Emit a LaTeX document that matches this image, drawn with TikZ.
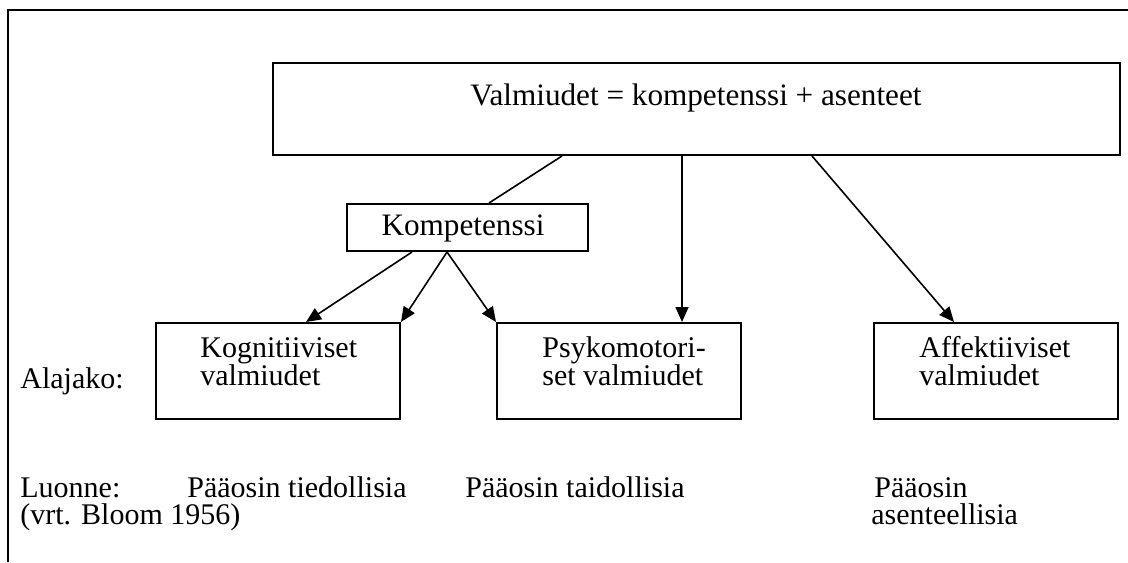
\documentclass[tikz,border=0pt]{standalone}
\usepackage{fontspec}
\setmainfont{Liberation Serif}
\usetikzlibrary{arrows.meta,calc}
\begin{document}
\begin{tikzpicture}[x=0.5pt,y=-0.5pt,
  every node/.style={font=\fontsize{15}{14}\selectfont},
  box/.style={draw,line width=1pt,inner sep=0pt},
  txt/.style={inner sep=0pt,anchor=base west},
  conn/.style={line width=0.8pt},
  arr/.style={conn,-{Triangle[length=7.5pt,width=6.5pt]}}]
\useasboundingbox (0,0) rectangle (1128,562);
% open frame
\draw[line width=1pt] (1128,10) -- (8,10) -- (8,562);
% top box
\node[box,minimum width=423.5pt,minimum height=46pt] (top) at (696.5,109) {};
\node[inner sep=0pt,font=\fontsize{15.6}{14}\selectfont] (toptxt) at (696,98) {Valmiudet = kompetenssi + asenteet};
% competence box
\node[box,minimum width=120.5pt,minimum height=23.5pt] (komp) at (467.5,227.5) {};
\node[inner sep=0pt,font=\fontsize{15.6}{14}\selectfont] (komptxt) at (463,228) {Kompetenssi};
% lower boxes
\node[box,minimum width=122pt,minimum height=48pt] (kog) at (278,371) {};
\node[box,minimum width=122pt,minimum height=48pt] (psy) at (619,371) {};
\node[box,minimum width=122pt,minimum height=48pt] (aff) at (996,371) {};
\node[txt] (kog1) at (200,357) {Kognitiiviset};
\node[txt] (kog2) at (200,385) {valmiudet};
\node[txt] (psy1) at (542,357) {Psykomotori-};
\node[txt] (psy2) at (542,385) {set valmiudet};
\node[txt] (aff1) at (919,357) {Affektiiviset};
\node[txt] (aff2) at (919,385) {valmiudet};
\node[txt] (alajako) at (20,388) {Alajako:};
% character row
\node[txt] (luonne) at (20,497) {Luonne:};
\node[txt] (tied) at (187,497) {Pääosin tiedollisia};
\node[txt] (bloom) at (20,524) {(vrt. Bloom 1956)};
\node[txt] (taid) at (465,497) {Pääosin taidollisia};
\node[txt] (asen1) at (874,497) {Pääosin};
\node[txt] (asen2) at (871,524) {asenteellisia};
% connectors
\draw[conn] ($(top.south west)+(290,0)$) -- ($(komp.north west)+(143,0)$);
\draw[arr] ($(top.south west)+(410,0)$) -- ($(psy.north west)+(186,0)$);
\draw[arr] ($(top.south west)+(540,0)$) -- ($(aff.north west)+(81,0)$);
\draw[arr] ($(komp.south west)+(66,0)$) -- ($(kog.north west)+(151,0)$);
\draw[arr] ($(komp.south west)+(101,0)$) -- (kog.north east);
\draw[arr] ($(komp.south west)+(101,0)$) -- (psy.north west);
\end{tikzpicture}
\end{document}
